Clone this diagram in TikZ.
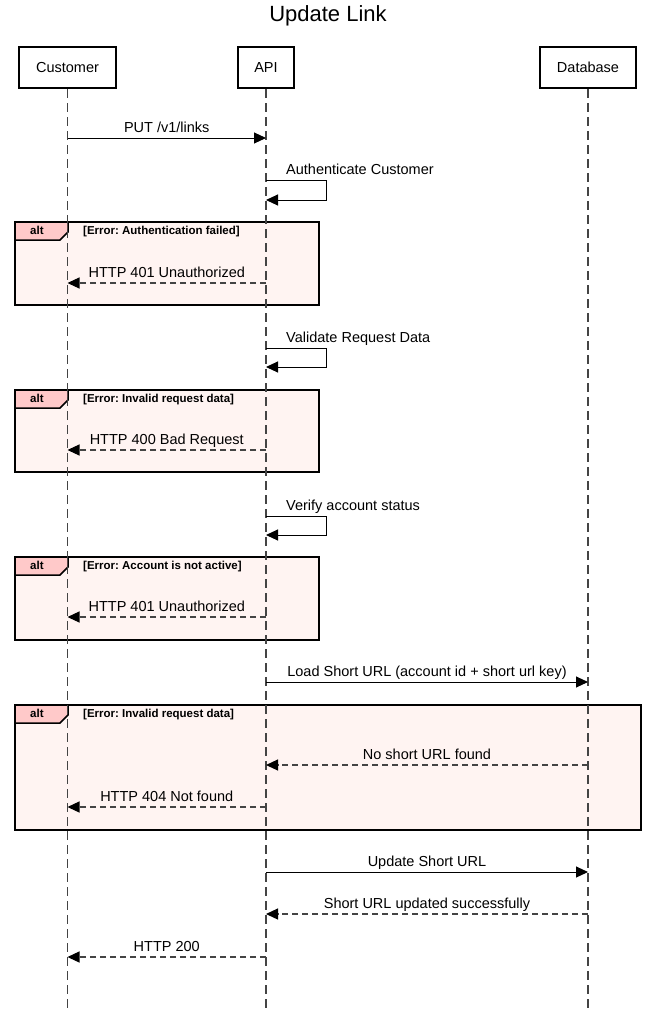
\documentclass[tikz,border=0pt]{standalone}
\usepackage{fontspec}
\setmainfont{Liberation Sans}
\usetikzlibrary{calc,
                 arrows.meta
  }
\definecolor{altfill}{HTML}{FFF4F2}
\definecolor{alttab}{HTML}{FFC9C9}
\definecolor{lifegray}{HTML}{444444}
\frenchspacing

\begin{document}
\begin{tikzpicture}[
      x=1pt, y=-1pt,
      actor/.style={
                rectangle,
                draw=black,
                line width=2pt,
                minimum height=41pt,
                inner sep=0pt,
                fill=white
                },
      lifeline/.style={draw=lifegray, line width=1.1pt, dash pattern=on 9pt off 5pt},
      msg/.style={draw=black, line width=1pt,
                -{Triangle[length=12pt,width=11pt,color=black]}},
      reply/.style={msg, draw=lifegray, line width=1.2pt, dash pattern=on 6pt off 4pt},
      lbl/.style={font=\fontsize{14.5}{16}\selectfont, text height=10.5pt,
                text depth=3pt, inner sep=2pt},
      frame/.style={draw=black, line width=2pt, fill=altfill},
      tab/.style={draw=black, line width=1.5pt, fill=alttab},
      cond/.style={font=\fontsize{11.5}{13}\selectfont\bfseries, inner sep=0pt,
                text height=8.5pt, text depth=2.5pt, anchor=west},
      every node/.style={font=\fontsize{14.5}{16}\selectfont}
]

\useasboundingbox (0,0) rectangle (656,1009);

\node[font=\fontsize{22}{24}\selectfont] (title) at (328,16) {Update Link};

\draw[frame] (15,222) rectangle (319,305);
\draw[tab] (15,222) -- (68,222) -- (68,232) -- (60,240) -- (15,240) -- cycle;
\node[cond] (alt1) at (30,231) {alt};
\node[cond] (cond1) at (83,231) {[Error: Authentication failed]};

\draw[frame] (15,390) rectangle (319,472);
\draw[tab] (15,390) -- (68,390) -- (68,400) -- (60,408) -- (15,408) -- cycle;
\node[cond] (alt2) at (30,399) {alt};
\node[cond] (cond2) at (83,399) {[Error: Invalid request data]};

\draw[frame] (15,557) rectangle (319,640);
\draw[tab] (15,557) -- (68,557) -- (68,567) -- (60,575) -- (15,575) -- cycle;
\node[cond] (alt3) at (30,566) {alt};
\node[cond] (cond3) at (83,566) {[Error: Account is not active]};

\draw[frame] (15,705) rectangle (641,830);
\draw[tab] (15,705) -- (68,705) -- (68,715) -- (60,723) -- (15,723) -- cycle;
\node[cond] (alt4) at (30,714) {alt};
\node[cond] (cond4) at (83,714) {[Error: Invalid request data]};

\node[actor, minimum width=97pt] (customer) at (67.5,67.5) {Customer};
\node[actor, minimum width=56pt] (api) at (266,67.5) {API};
\node[actor, minimum width=96pt] (database) at (588,67.5) {Database};

\draw[lifeline] (customer.south) -- (customer.south |- 0,1009);
\draw[lifeline] (api.south) -- (api.south |- 0,1009);
\draw[lifeline] (database.south) -- (database.south |- 0,1009);

\draw[msg] (customer |- 0,138) -- (api |- 0,138)
      node[lbl, midway, above] (m1) {PUT /v1/links};

\draw[msg] (api |- 0,180) -- ++(60,0) -- ++(0,20) -- (api |- 0,200);
\node[lbl, anchor=south west] (m2) at ($(api |- 0,180) + (18,0)$) {Authenticate Customer};
\draw[reply] (api |- 0,283) -- (customer |- 0,283) node[lbl, midway, above] (m3) {HTTP 401 Unauthorized};

\draw[msg] (api |- 0,348) -- ++(60,0) -- ++(0,19) -- (api |- 0,367);
\node[lbl, anchor=south west] (m4) at ($(api |- 0,348) + (18,0)$) {Validate Request Data};
\draw[reply] (api |- 0,450) -- (customer |- 0,450) node[lbl, midway, above] (m5) {HTTP 400 Bad Request};

\draw[msg] (api |- 0,516) -- ++(60,0) -- ++(0,19) -- (api |- 0,535);
\node[lbl, anchor=south west] (m6) at ($(api |- 0,516) + (18,0)$) {Verify account status};
\draw[reply] (api |- 0,617) -- (customer |- 0,617) node[lbl, midway, above] (m7) {HTTP 401 Unauthorized};

\draw[msg] (api |- 0,682) -- (database |- 0,682)
      node[lbl, midway, above] (m8) {Load Short URL (account id + short url key)};
\draw[reply] (database |- 0,765) -- (api |- 0,765) node[lbl, midway, above] (m9) {No short URL found};
\draw[reply] (api |- 0,807) -- (customer |- 0,807) node[lbl, midway, above] (m10) {HTTP 404 Not found};

\draw[msg] (api |- 0,872) -- (database |- 0,872) node[lbl, midway, above] (m11) {Update Short URL};
\draw[reply] (database |- 0,914) -- (api |- 0,914)
      node[lbl, midway, above] (m12) {Short URL updated successfully};
\draw[reply] (api |- 0,957) -- (customer |- 0,957) node[lbl, midway, above] (m13) {HTTP 200};

\end{tikzpicture}
\end{document}
